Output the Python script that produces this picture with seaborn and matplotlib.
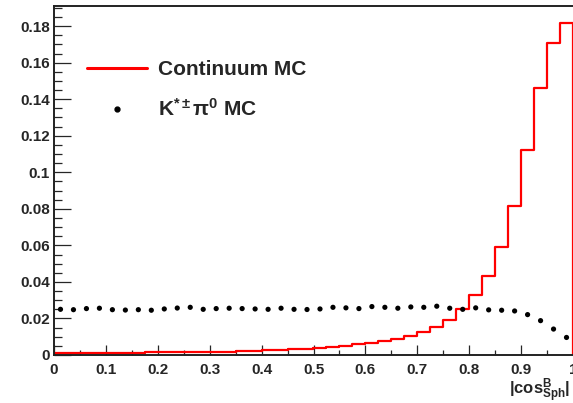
import numpy as np
import pandas as pd
import matplotlib
matplotlib.use("Agg")
import matplotlib.pyplot as plt
from matplotlib.lines import Line2D
from matplotlib.ticker import MultipleLocator, FuncFormatter
import seaborn as sns

# ---------------- data ----------------
bin_edges = np.linspace(0.0, 1.0, 41)
bin_centers = 0.5 * (bin_edges[:-1] + bin_edges[1:])

continuum_mc = [
    0.0013, 0.0012, 0.0012, 0.0012, 0.0013, 0.0013, 0.0013, 0.0014, 0.0014, 0.0015,
    0.0016, 0.0017, 0.0018, 0.0019, 0.0021, 0.0023, 0.0025, 0.0028, 0.0031, 0.0034,
    0.0038, 0.0043, 0.0050, 0.0058, 0.0067, 0.0077, 0.0087, 0.0102, 0.0127, 0.0155,
    0.0193, 0.0250, 0.0326, 0.0433, 0.0592, 0.0817, 0.1123, 0.1460, 0.1705, 0.1815,
]
kstar_pi0_mc = [
    0.0250, 0.0248, 0.0254, 0.0256, 0.0248, 0.0246, 0.0248, 0.0245, 0.0252, 0.0257,
    0.0261, 0.0250, 0.0254, 0.0256, 0.0254, 0.0252, 0.0250, 0.0256, 0.0250, 0.0249,
    0.0252, 0.0261, 0.0258, 0.0254, 0.0265, 0.0261, 0.0256, 0.0263, 0.0261, 0.0267,
    0.0256, 0.0250, 0.0258, 0.0247, 0.0245, 0.0241, 0.0221, 0.0188, 0.0142, 0.0096,
]
legend_labels = ["Continuum MC", r"K$^{*\pm}\pi^{0}$ MC"]
x_label = r"$|\mathbf{cos}^{\mathbf{B}}_{\mathbf{Sph}}|$"

df = pd.DataFrame({"x": bin_centers, "cont": continuum_mc, "kst": kstar_pi0_mc})

# ---------------- style ----------------
sns.set_style("white")
plt.rcParams["font.family"] = ["Liberation Sans", "DejaVu Sans"]
plt.rcParams["font.weight"] = "bold"
plt.rcParams["mathtext.fontset"] = "custom"
plt.rcParams["mathtext.rm"] = "Liberation Sans:bold"
plt.rcParams["mathtext.bf"] = "Liberation Sans:bold"
plt.rcParams["mathtext.it"] = "Liberation Sans:bold"
plt.rcParams["mathtext.default"] = "bf"

W, H = 573, 403
fig = plt.figure(figsize=(W / 100, H / 100), dpi=100)
ax = fig.add_axes([54 / W, (H - 355) / H, (573 - 54) / W, (355 - 6) / H])

sns.histplot(data=df, x="x", weights="cont", binwidth=0.025, binrange=(0, 1),
             element="step", fill=False, color="red", linewidth=1.6, ax=ax, zorder=2)
ax.vlines(bin_edges[-1], 0, continuum_mc[-1], color="red", linewidth=1.6,
          clip_on=False, zorder=2)
sns.scatterplot(data=df, x="x", y="kst", color="black", s=14, edgecolor="none",
                ax=ax, zorder=3)

ax.set_xlim(0, 1)
ax.set_ylim(0, 0.191)
ax.set_xlabel("")
ax.set_ylabel("")

ax.xaxis.set_major_locator(MultipleLocator(0.1))
ax.xaxis.set_minor_locator(MultipleLocator(0.05))
ax.yaxis.set_major_locator(MultipleLocator(0.02))
ax.yaxis.set_minor_locator(MultipleLocator(0.005))
fmt = FuncFormatter(lambda v, p: "%g" % round(v, 4))
ax.xaxis.set_major_formatter(fmt)
ax.yaxis.set_major_formatter(fmt)

ax.tick_params(axis="x", which="major", direction="in", length=7.2, width=0.9,
               pad=6, labelsize=11, bottom=True, top=False)
ax.tick_params(axis="x", which="minor", direction="in", length=3.6, width=0.9,
               bottom=True, top=False)
ax.tick_params(axis="y", which="major", direction="in", length=12, width=0.9,
               pad=3, labelsize=11, left=True, right=False)
ax.tick_params(axis="y", which="minor", direction="in", length=6, width=0.9,
               left=True, right=False)
for lab in ax.get_xticklabels() + ax.get_yticklabels():
    lab.set_fontweight("bold")

for side in ["left", "bottom", "top"]:
    ax.spines[side].set_visible(True)
    ax.spines[side].set_color("#222222")
    ax.spines[side].set_linewidth(1.4)
ax.spines["right"].set_visible(False)

handles = [
    Line2D([], [], color="red", linewidth=2.2),
    Line2D([], [], color="black", marker="o", markersize=3.5, linestyle="none"),
]
leg = ax.legend(handles, legend_labels, loc="center left",
                bbox_to_anchor=(86.7 / W, 1 - 90 / H), bbox_transform=fig.transFigure,
                frameon=False, prop={"size": 15, "weight": "bold"},
                handlelength=2.9, handletextpad=0.5, labelspacing=0.9,
                borderpad=0, borderaxespad=0)

ax.text(0.995, -0.103, x_label, transform=ax.transAxes, ha="right", va="center",
        fontsize=12, fontweight="bold")

fig.savefig("out.png", dpi=100)
